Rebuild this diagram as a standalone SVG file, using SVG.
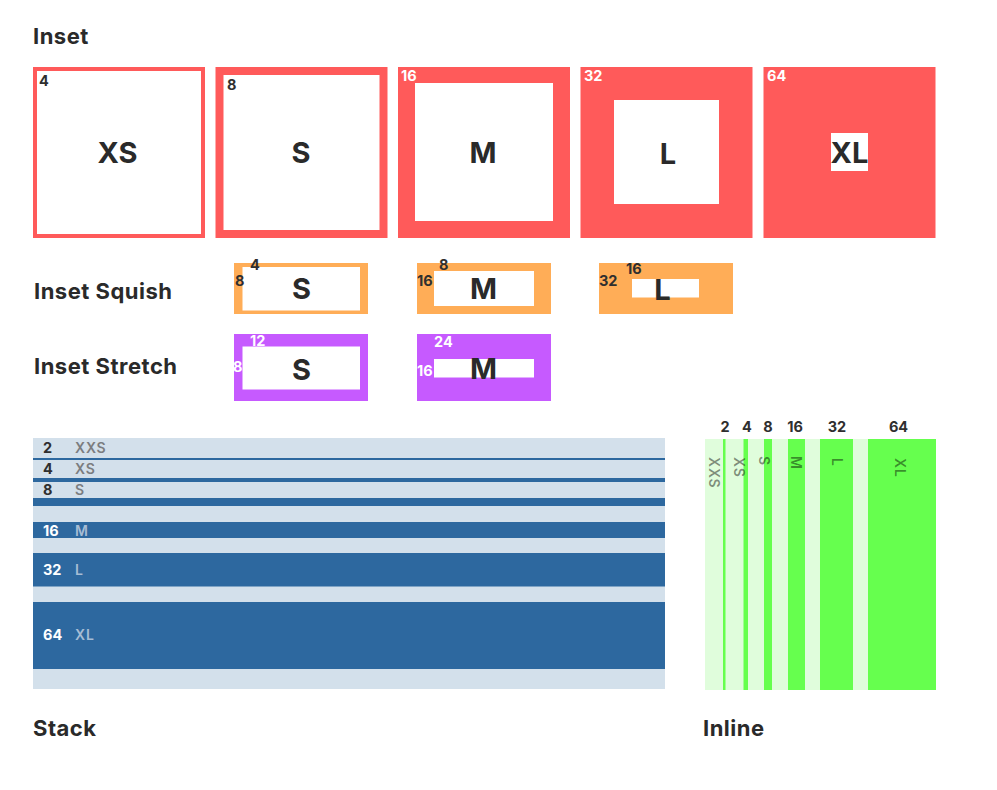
<svg xmlns="http://www.w3.org/2000/svg" width="997" height="790" viewBox="0 0 997 790">
<style>
text{font-family:Inter,Lato,"Liberation Sans",Arial,sans-serif;font-weight:bold}
.t{font-size:22px;letter-spacing:0.5px;fill:#2a2a2a}
.big{font-size:29px;fill:#2a2a2a;text-anchor:middle}
.n{font-size:14.5px;fill:#2f2f2f}
.nw{font-size:14.5px;fill:#ffffff}
.red{fill:#ff5a5a}
.org{fill:#ffad57}
.pur{fill:#c65aff}
.wh{fill:#ffffff}
.sl{fill:#d3e0eb}
.sd{fill:#2d689f}
.lab{font-size:14px;font-weight:600;letter-spacing:0.8px}
.gl{fill:#e0fddc}
.gd{fill:#66ff4e}
.rl{font-size:14px;font-weight:600;letter-spacing:0.8px;fill:#000;fill-opacity:0.45}
</style>
<rect width="997" height="790" fill="#ffffff"/>

<g id="titles">
<text class="t" x="33" y="44">Inset</text>
<text class="t" x="34" y="299">Inset Squish</text>
<text class="t" x="34" y="374">Inset Stretch</text>
<text class="t" x="33" y="736">Stack</text>
<text class="t" x="703" y="736">Inline</text>
</g>

<g id="inset-xs">
<rect class="red" x="33" y="67" width="172" height="171"/>
<rect class="wh" x="37" y="71" width="164" height="163"/>
<text class="n" x="39" y="86">4</text>
<text class="big" x="117.5" y="163">XS</text>
</g>
<g id="inset-s">
<rect class="red" x="215.5" y="67" width="172" height="171"/>
<rect class="wh" x="223.5" y="75" width="156" height="155"/>
<text class="n" x="227" y="90">8</text>
<text class="big" x="301" y="163">S</text>
</g>
<g id="inset-m">
<rect class="red" x="398" y="67" width="172" height="171"/>
<rect class="wh" x="415" y="83" width="138" height="138"/>
<text class="nw" x="401" y="81">16</text>
<text class="big" x="483" y="163">M</text>
</g>
<g id="inset-l">
<rect class="red" x="580.5" y="67" width="172" height="171"/>
<rect class="wh" x="614" y="100" width="105" height="104"/>
<text class="nw" x="584" y="81">32</text>
<text class="big" x="668" y="164">L</text>
</g>
<g id="inset-xl">
<rect class="red" x="763.5" y="67" width="172" height="171"/>
<rect class="wh" x="831" y="133" width="37" height="38"/>
<text class="nw" x="767" y="81">64</text>
<text class="big" x="849.5" y="163">XL</text>
</g>

<g id="squish-s">
<rect class="org" x="234" y="263" width="134" height="51"/>
<rect class="wh" x="242.5" y="267" width="117.5" height="43.5"/>
<text class="n" x="250" y="270">4</text>
<text class="n" x="235" y="286">8</text>
<text class="big" x="301.5" y="299">S</text>
</g>
<g id="squish-m">
<rect class="org" x="417" y="263" width="134" height="51"/>
<rect class="wh" x="434" y="271" width="100" height="35"/>
<text class="n" x="439" y="270">8</text>
<text class="n" x="417" y="286">16</text>
<text class="big" x="483.5" y="299">M</text>
</g>
<g id="squish-l">
<rect class="org" x="599" y="263" width="134" height="51"/>
<rect class="wh" x="632" y="279" width="67" height="18.5"/>
<text class="n" x="626" y="274">16</text>
<text class="n" x="599" y="286">32</text>
<text class="big" x="662.5" y="300">L</text>
</g>

<g id="stretch-s">
<rect class="pur" x="234" y="334" width="134" height="67"/>
<rect class="wh" x="242.5" y="346.5" width="117.5" height="43"/>
<text class="nw" x="250" y="346">12</text>
<text class="nw" x="233" y="372">8</text>
<text class="big" x="301.5" y="380">S</text>
</g>
<g id="stretch-m">
<rect class="pur" x="417" y="334" width="134" height="67"/>
<rect class="wh" x="434" y="359" width="100" height="18.5"/>
<text class="nw" x="434" y="347">24</text>
<text class="nw" x="417" y="376">16</text>
<text class="big" x="483.5" y="379">M</text>
</g>

<g id="stack">
<rect class="sl" x="33" y="438" width="632" height="251"/>
<rect class="sd" x="33" y="458" width="632" height="2"/>
<rect class="sd" x="33" y="478" width="632" height="4"/>
<rect class="sd" x="33" y="498" width="632" height="8"/>
<rect class="sd" x="33" y="522" width="632" height="16"/>
<rect class="sd" x="33" y="553" width="632" height="33.5"/>
<rect class="sd" x="33" y="602" width="632" height="67"/>
<text class="n" x="43" y="453">2</text><text class="lab" x="75" y="453" fill="#7b7d80">XXS</text>
<text class="n" x="43" y="474">4</text><text class="lab" x="75" y="474" fill="#7b7d80">XS</text>
<text class="n" x="43" y="495">8</text><text class="lab" x="75" y="495" fill="#7b7d80">S</text>
<text class="nw" x="43" y="536">16</text><text class="lab" x="75" y="536" fill="#a6bdd5">M</text>
<text class="nw" x="43" y="575">32</text><text class="lab" x="75" y="575" fill="#a6bdd5">L</text>
<text class="nw" x="43" y="640">64</text><text class="lab" x="75" y="640" fill="#a6bdd5">XL</text>
</g>

<g id="inline">
<rect class="gl" x="705" y="439" width="231" height="251"/>
<rect class="gd" x="723" y="439" width="2.5" height="251"/>
<rect class="gd" x="743.5" y="439" width="4.5" height="251"/>
<rect class="gd" x="764" y="439" width="8" height="251"/>
<rect class="gd" x="788" y="439" width="17" height="251"/>
<rect class="gd" x="820" y="439" width="33" height="251"/>
<rect class="gd" x="868" y="439" width="68" height="251"/>
<g text-anchor="middle">
<text class="n" x="725" y="432">2</text>
<text class="n" x="747" y="432">4</text>
<text class="n" x="768" y="432">8</text>
<text class="n" x="795" y="432">16</text>
<text class="n" x="837" y="432">32</text>
<text class="n" x="898.5" y="432">64</text>
</g>
<text class="rl" transform="translate(708.5,457) rotate(90)">XXS</text>
<text class="rl" transform="translate(733.5,457) rotate(90)">XS</text>
<text class="rl" transform="translate(758.5,456) rotate(90)">S</text>
<text class="rl" transform="translate(791,456) rotate(90)">M</text>
<text class="rl" transform="translate(832,458) rotate(90)">L</text>
<text class="rl" transform="translate(894.5,458) rotate(90)">XL</text>
</g>
</svg>
